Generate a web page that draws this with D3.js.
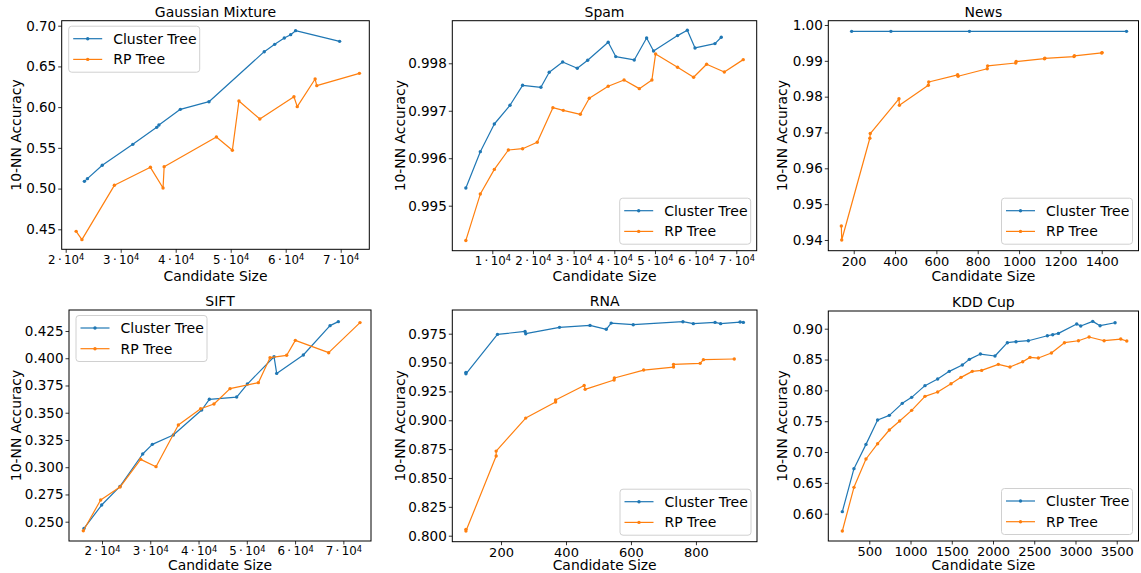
<!DOCTYPE html>
<html>
<head>
<meta charset="utf-8">
<script src="https://cdn.jsdelivr.net/npm/d3@7"></script>
<style>
  html, body { margin: 0; padding: 0; background: #fff; }
  svg { display: block; }
</style>
</head>
<body>
<svg id="chart" width="1141" height="573"></svg>
<script>
// ---------------- DATA ----------------
const seriesNames = ["Cluster Tree", "RP Tree"];
const titles = ["Gaussian Mixture", "Spam", "News", "SIFT", "RNA", "KDD Cup"];
const xLabel = "Candidate Size";
const yLabel = "10-NN Accuracy";

// Gaussian Mixture
const gmClusterX = [23400, 23950, 26650, 32200, 36550, 36950, 40850, 46050, 56100, 58000, 59750, 60900, 61800, 69800];
const gmClusterY = [0.5089, 0.5122, 0.5286, 0.5543, 0.5752, 0.5781, 0.5973, 0.6067, 0.6681, 0.6771, 0.6849, 0.6890, 0.6939, 0.6808];
const gmRPX = [21900, 22950, 28850, 35400, 37700, 37900, 47400, 50300, 51500, 55300, 61500, 62100, 65350, 65650, 73400];
const gmRPY = [0.4475, 0.4373, 0.5040, 0.5261, 0.5007, 0.5269, 0.5633, 0.5470, 0.6075, 0.5854, 0.6128, 0.6006, 0.6345, 0.6264, 0.6415];
const gmXTicks = [20000, 30000, 40000, 50000, 60000, 70000];
const gmYTicks = [0.45, 0.50, 0.55, 0.60, 0.65, 0.70];

// Spam
const spamClusterX = [3500, 7050, 10500, 14350, 17450, 21950, 24000, 27300, 30900, 33450, 38500, 40350, 44900, 47950, 49650, 55550, 57950, 59850, 64750, 66300];
const spamClusterY = [0.995372, 0.996138, 0.996721, 0.997115, 0.997536, 0.997494, 0.997810, 0.998028, 0.997895, 0.998063, 0.998443, 0.998141, 0.998070, 0.998534, 0.998260, 0.998583, 0.998696, 0.998323, 0.998415, 0.998548];
const spamRPX = [3500, 7050, 10500, 13950, 17450, 21050, 24900, 27450, 31650, 33850, 38500, 42400, 46150, 49250, 50150, 55550, 59500, 62700, 67050, 71700];
const spamRPY = [0.994268, 0.995245, 0.995765, 0.996173, 0.996201, 0.996335, 0.997065, 0.997009, 0.996925, 0.997262, 0.997515, 0.997649, 0.997466, 0.997649, 0.998197, 0.997916, 0.997705, 0.997979, 0.997817, 0.998077];
const spamXTicks = [10000, 20000, 30000, 40000, 50000, 60000, 70000];
const spamYTicks = [0.995, 0.996, 0.997, 0.998];

// News
const newsClusterX = [190, 380, 760, 1520];
const newsClusterY = [0.99823, 0.99823, 0.99823, 0.99823];
const newsRPX = [140, 142, 278, 280, 419, 421, 561, 563, 703, 705, 846, 848, 984, 986, 1123, 1125, 1266, 1268, 1400, 1402];
const newsRPY = [0.9439, 0.9400, 0.9684, 0.9697, 0.9794, 0.9776, 0.9832, 0.9841, 0.9861, 0.9857, 0.9878, 0.9886, 0.9894, 0.9898, 0.9906, 0.9907, 0.9912, 0.9914, 0.9922, 0.9923];
const newsXTicks = [200, 400, 600, 800, 1000, 1200, 1400];
const newsYTicks = [0.94, 0.95, 0.96, 0.97, 0.98, 0.99, 1.00];

// SIFT
const siftClusterX = [16270, 19930, 23730, 28430, 30430, 34780, 40650, 42240, 47900, 50110, 55640, 56190, 61710, 67240, 68960];
const siftClusterY = [0.2438, 0.2653, 0.2824, 0.3121, 0.3210, 0.3295, 0.3525, 0.3623, 0.3644, 0.3763, 0.4014, 0.3861, 0.4030, 0.4299, 0.4336];
const siftRPX = [16130, 19720, 23730, 28010, 31190, 35820, 40440, 43200, 46520, 52390, 54810, 58260, 60060, 66960, 73450];
const siftRPY = [0.2417, 0.2699, 0.2818, 0.3072, 0.3005, 0.3387, 0.3537, 0.3580, 0.3721, 0.3776, 0.4005, 0.4027, 0.4164, 0.4051, 0.4327];
const siftXTicks = [20000, 30000, 40000, 50000, 60000, 70000];
const siftYTicks = [0.250, 0.275, 0.300, 0.325, 0.350, 0.375, 0.400, 0.425];

// RNA
const rnaClusterX = [92, 92, 189, 274, 276, 380, 474, 524, 539, 607, 760, 792, 859, 876, 936, 946];
const rnaClusterY = [0.9415, 0.9403, 0.9744, 0.9770, 0.9750, 0.9805, 0.9822, 0.9788, 0.9842, 0.9828, 0.9854, 0.9837, 0.9848, 0.9837, 0.9851, 0.9848];
const rnaRPX = [92, 92, 185, 185, 276, 368, 368, 456, 459, 548, 549, 639, 731, 731, 813, 823, 918];
const rnaRPY = [0.8055, 0.8040, 0.8690, 0.8733, 0.9019, 0.9158, 0.9175, 0.9302, 0.9268, 0.9349, 0.9366, 0.9435, 0.9461, 0.9484, 0.9493, 0.9525, 0.9531];
const rnaXTicks = [200, 400, 600, 800];
const rnaYTicks = [0.800, 0.825, 0.850, 0.875, 0.900, 0.925, 0.950, 0.975];

// KDD Cup
const kddClusterX = [173, 314, 460, 601, 743, 900, 1014, 1175, 1329, 1470, 1628, 1713, 1847, 2024, 2174, 2279, 2429, 2659, 2724, 2793, 3015, 3064, 3209, 3298, 3480];
const kddClusterY = [0.6033, 0.6730, 0.7124, 0.7519, 0.7595, 0.7789, 0.7887, 0.8076, 0.8184, 0.8308, 0.8411, 0.8503, 0.8589, 0.8557, 0.8773, 0.8789, 0.8805, 0.8886, 0.8903, 0.8924, 0.9076, 0.9043, 0.9119, 0.9049, 0.9097];
const kddRPX = [173, 314, 460, 601, 743, 868, 1014, 1175, 1329, 1491, 1612, 1749, 1862, 2065, 2206, 2360, 2449, 2550, 2708, 2866, 3036, 3165, 3347, 3549, 3622];
const kddRPY = [0.5719, 0.6427, 0.6887, 0.7135, 0.7357, 0.7503, 0.7676, 0.7903, 0.7973, 0.8108, 0.8211, 0.8308, 0.8324, 0.8422, 0.8378, 0.8465, 0.8535, 0.8524, 0.8605, 0.8773, 0.8805, 0.8865, 0.8805, 0.8832, 0.8800];
const kddXTicks = [500, 1000, 1500, 2000, 2500, 3000, 3500];
const kddYTicks = [0.60, 0.65, 0.70, 0.75, 0.80, 0.85, 0.90];

// ---------------- LAYOUT ----------------
const COLORS = ["#1f77b4", "#ff7f0e"];
const FONT = "'DejaVu Sans', sans-serif";

const panels = [
  { title: titles[0], cx: gmClusterX, cy: gmClusterY, rx: gmRPX, ry: gmRPY, xt: gmXTicks, yt: gmYTicks,
    frame: [61.7, 369.3, 20.7, 249.3], xDom: [19273, 75200], yDom: [0.42544, 0.70614],
    yFmt: ".2f", sci: true, legend: "ul", yLabX: 16, xLabDy: 31.5 },
  { title: titles[1], cx: spamClusterX, cy: spamClusterY, rx: spamRPX, ry: spamRPY, xt: spamXTicks, yt: spamYTicks,
    frame: [452.3, 756.7, 20.7, 250.7], xDom: [165, 75012], yDom: [0.994052, 0.998897],
    yFmt: ".3f", sci: true, legend: "lr", yLabX: 400, xLabDy: 30.5 },
  { title: titles[2], cx: newsClusterX, cy: newsClusterY, rx: newsRPX, ry: newsRPY, xt: newsXTicks, yt: newsYTicks,
    frame: [828.3, 1138.5, 20.7, 250.7], xDom: [77, 1578], yDom: [0.93701, 1.0012],
    yFmt: ".2f", sci: false, legend: "lr", yLabX: 781.7, xLabDy: 30.5 },
  { title: titles[3], cx: siftClusterX, cy: siftClusterY, rx: siftRPX, ry: siftRPY, xt: siftXTicks, yt: siftYTicks,
    frame: [69, 371, 310, 541], xDom: [13163, 75728], yDom: [0.23229, 0.44427],
    yFmt: ".3f", sci: true, legend: "ul", yLabX: 16, xLabDy: 28.8 },
  { title: titles[4], cx: rnaClusterX, cy: rnaClusterY, rx: rnaRPX, ry: rnaRPY, xt: rnaXTicks, yt: rnaYTicks,
    frame: [452.3, 757, 310, 541.7], xDom: [50, 988], yDom: [0.7948, 0.99553],
    yFmt: ".3f", sci: false, legend: "lr", yLabX: 400, xLabDy: 28.1 },
  { title: titles[5], cx: kddClusterX, cy: kddClusterY, rx: kddRPX, ry: kddRPY, xt: kddXTicks, yt: kddYTicks,
    frame: [828.3, 1138.5, 311, 541], xDom: [3, 3764], yDom: [0.5557, 0.9287],
    yFmt: ".2f", sci: false, legend: "lr", yLabX: 781.7, xLabDy: 28.8 }
];

const svg = d3.select("#chart");
svg.append("rect").attr("width", 1141).attr("height", 573).attr("fill", "#fff");

panels.forEach(p => {
  const [x0, x1, y0, y1] = p.frame;
  const x = d3.scaleLinear().domain(p.xDom).range([x0, x1]);
  const y = d3.scaleLinear().domain(p.yDom).range([y1, y0]);
  const g = svg.append("g");

  // series
  const series = [
    { xs: p.cx, ys: p.cy, color: COLORS[0] },
    { xs: p.rx, ys: p.ry, color: COLORS[1] }
  ];
  const line = d3.line().x(d => x(d[0])).y(d => y(d[1]));
  series.forEach(s => {
    const pts = s.xs.map((v, i) => [v, s.ys[i]]);
    g.append("path").datum(pts).attr("d", line)
      .attr("fill", "none").attr("stroke", s.color).attr("stroke-width", 1.2)
      .attr("stroke-linejoin", "round");
    g.selectAll(null).data(pts).enter().append("circle")
      .attr("cx", d => x(d[0])).attr("cy", d => y(d[1])).attr("r", 1.7)
      .attr("fill", s.color);
  });

  // frame
  g.append("rect").attr("x", x0).attr("y", y0).attr("width", x1 - x0).attr("height", y1 - y0)
    .attr("fill", "none").attr("stroke", "#000").attr("stroke-width", 1);

  // y axis
  const ya = g.append("g").attr("transform", `translate(${x0},0)`)
    .call(d3.axisLeft(y).tickValues(p.yt).tickSize(3.5).tickPadding(2).tickFormat(d3.format(p.yFmt)));
  ya.select(".domain").remove();
  ya.selectAll(".tick line").attr("stroke", "#000").attr("stroke-width", 0.8);
  ya.selectAll(".tick text").attr("font-family", FONT).attr("font-size", 13.5).attr("fill", "#000");

  // x axis
  const xa = g.append("g").attr("transform", `translate(0,${y1})`)
    .call(d3.axisBottom(x).tickValues(p.xt).tickSize(3.5).tickPadding(2.5).tickFormat(d3.format("d")));
  xa.select(".domain").remove();
  xa.selectAll(".tick line").attr("stroke", "#000").attr("stroke-width", 0.8);
  xa.selectAll(".tick text").attr("font-family", FONT).attr("fill", "#000");
  if (p.sci) {
    xa.selectAll(".tick text").attr("font-size", 11.8).each(function(d) {
      const t = d3.select(this);
      t.text(null);
      t.append("tspan").text(`${Math.round(d / 1e4)}\u2009·\u200910`);
      t.append("tspan").attr("dy", "-0.45em").attr("font-size", 8.3).text("4");
    });
  } else {
    xa.selectAll(".tick text").attr("font-size", 13);
  }

  // title
  g.append("text").attr("x", (x0 + x1) / 2).attr("y", y0 - 4)
    .attr("text-anchor", "middle").attr("font-family", FONT).attr("font-size", 14)
    .text(p.title);
  // x label
  g.append("text").attr("x", (x0 + x1) / 2).attr("y", y1 + p.xLabDy)
    .attr("text-anchor", "middle").attr("font-family", FONT).attr("font-size", 13.9)
    .text(xLabel);
  // y label
  g.append("text")
    .attr("transform", `translate(${p.yLabX},${(y0 + y1) / 2}) rotate(-90)`)
    .attr("text-anchor", "middle").attr("dy", "0.35em")
    .attr("font-family", FONT).attr("font-size", 13.9)
    .text(yLabel);

  // legend
  const lw = 131, lh = 46;
  const lx = p.legend === "ul" ? x0 + 7 : x1 - 6 - lw;
  const ly = p.legend === "ul" ? y0 + 5.5 : y1 - 6.5 - lh;
  const lg = g.append("g").attr("transform", `translate(${lx},${ly})`);
  lg.append("rect").attr("width", lw).attr("height", lh).attr("rx", 3)
    .attr("fill", "#fff").attr("fill-opacity", 0.8)
    .attr("stroke", "#d0d0d0").attr("stroke-width", 1);
  seriesNames.forEach((name, i) => {
    const ry = 12.5 + i * 20.7;
    lg.append("line").attr("x1", 4.5).attr("x2", 33.5).attr("y1", ry).attr("y2", ry)
      .attr("stroke", COLORS[i]).attr("stroke-width", 1.2);
    lg.append("circle").attr("cx", 19).attr("cy", ry).attr("r", 1.7).attr("fill", COLORS[i]);
    lg.append("text").attr("x", 44.5).attr("y", ry).attr("dy", "0.36em")
      .attr("font-family", FONT).attr("font-size", 14).text(name);
  });
});
</script>
</body>
</html>
